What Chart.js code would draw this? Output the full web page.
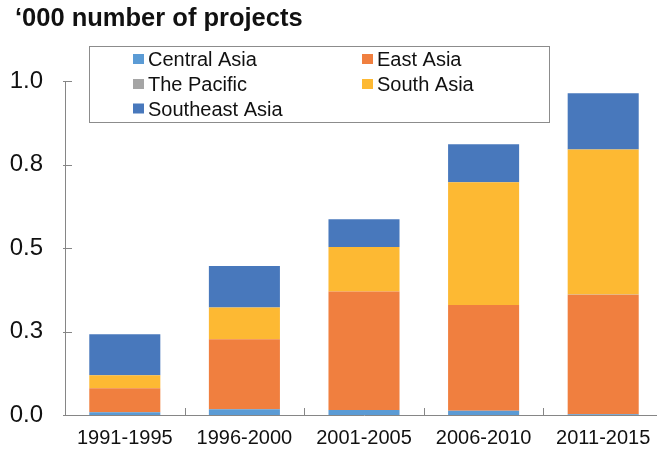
<!DOCTYPE html>
<html>
<head>
<meta charset="utf-8">
<script src="https://cdn.jsdelivr.net/npm/chart.js@4/dist/chart.umd.min.js"></script>
<style>
  html, body { margin: 0; padding: 0; background: #fff; overflow: hidden; }
  #wrap { position: relative; width: 670px; height: 452px; }
</style>
</head>
<body>
<div id="wrap"><canvas id="c" width="670" height="452"></canvas></div>
<script>
const categories = ['1991-1995', '1996-2000', '2001-2005', '2006-2010', '2011-2015'];
const centralAsia   = [0.008, 0.017, 0.015, 0.013, 0.002];
const eastAsia      = [0.072, 0.210, 0.355, 0.316, 0.358];
const thePacific    = [0.000, 0.000, 0.000, 0.000, 0.001];
const southAsia     = [0.039, 0.095, 0.133, 0.368, 0.434];
const southeastAsia = [0.123, 0.124, 0.083, 0.114, 0.168];
const yTickLabels = ['0.0', '0.3', '0.5', '0.8', '1.0'];
const seriesNames = ['Central Asia', 'East Asia', 'The Pacific', 'South Asia', 'Southeast Asia'];
const titleText = '\u2018000 number of projects';

const colors = ['#5B9BD5', '#F07F3F', '#A5A5A5', '#FDB933', '#4878BC'];
const FONT = "'Liberation Sans', Arial, sans-serif";
const AXIS = '#868686';

const seriesValues = [centralAsia, eastAsia, thePacific, southAsia, southeastAsia];

const decorPlugin = {
  id: 'decor',
  afterDraw(chart) {
    const ctx = chart.ctx;
    const ca = chart.chartArea;
    const xs = chart.scales.x, ys = chart.scales.y;
    ctx.save();
    // inside tick marks
    ctx.strokeStyle = AXIS;
    ctx.lineWidth = 1;
    ys.ticks.forEach(t => {
      const y = Math.round(ys.getPixelForValue(t.value)) + 0.5;
      ctx.beginPath();
      ctx.moveTo(ca.left - 2, y);
      ctx.lineTo(ca.left + 7, y);
      ctx.stroke();
    });
    for (let i = 0; i < categories.length - 1; i++) {
      const x = Math.round((xs.getPixelForValue(i) + xs.getPixelForValue(i + 1)) / 2) + 0.5;
      ctx.beginPath();
      ctx.moveTo(x, ca.bottom);
      ctx.lineTo(x, ca.bottom - 7);
      ctx.stroke();
    }
    // title
    ctx.fillStyle = '#111111';
    ctx.font = 'bold 25.5px ' + FONT;
    ctx.textBaseline = 'alphabetic';
    ctx.textAlign = 'left';
    ctx.fillText(titleText, 15, 26);
    // legend box
    ctx.fillStyle = '#ffffff';
    ctx.fillRect(89.5, 46.5, 460, 76);
    ctx.strokeStyle = '#8c8c8c';
    ctx.strokeRect(89.5, 46.5, 460, 76);
    ctx.font = '20px ' + FONT;
    const colX = [133, 362];
    const rowY = [59, 84, 108.5];
    chart.data.datasets.forEach((ds, i) => {
      const col = i % 2, row = Math.floor(i / 2);
      const x = colX[col], y = rowY[row];
      ctx.fillStyle = ds.backgroundColor;
      ctx.fillRect(x, y - 5, 11, 10);
      ctx.fillStyle = '#111111';
      ctx.fillText(ds.label, x + 15, y + 7);
    });
    ctx.restore();
  }
};

new Chart(document.getElementById('c'), {
  type: 'bar',
  data: {
    labels: categories,
    datasets: seriesValues.map((vals, i) => ({
      label: seriesNames[i],
      data: vals,
      backgroundColor: colors[i],
      borderWidth: 0,
      barPercentage: 0.594,
      categoryPercentage: 1.0
    }))
  },
  options: {
    responsive: false,
    animation: false,
    devicePixelRatio: 1,
    layout: { padding: { left: 0, top: 81, right: 7, bottom: 0 } },
    plugins: {
      legend: { display: false },
      title: { display: false },
      tooltip: { enabled: false }
    },
    scales: {
      x: {
        stacked: true,
        grid: { display: false, drawTicks: false },
        border: { display: true, color: AXIS, width: 1 },
        ticks: { color: '#111111', font: { family: FONT, size: 20 }, padding: 11, maxRotation: 0 },
        afterFit(scale) { scale.height = 37; }
      },
      y: {
        stacked: true,
        min: 0,
        max: 1,
        grid: { display: false, drawTicks: false },
        border: { display: true, color: AXIS, width: 1 },
        ticks: {
          stepSize: 0.25,
          color: '#111111',
          font: { family: FONT, size: 24 },
          padding: 22,
          callback: (v, i) => yTickLabels[i]
        },
        afterFit(scale) { scale.width = 65; }
      }
    }
  },
  plugins: [decorPlugin]
});
</script>
</body>
</html>
